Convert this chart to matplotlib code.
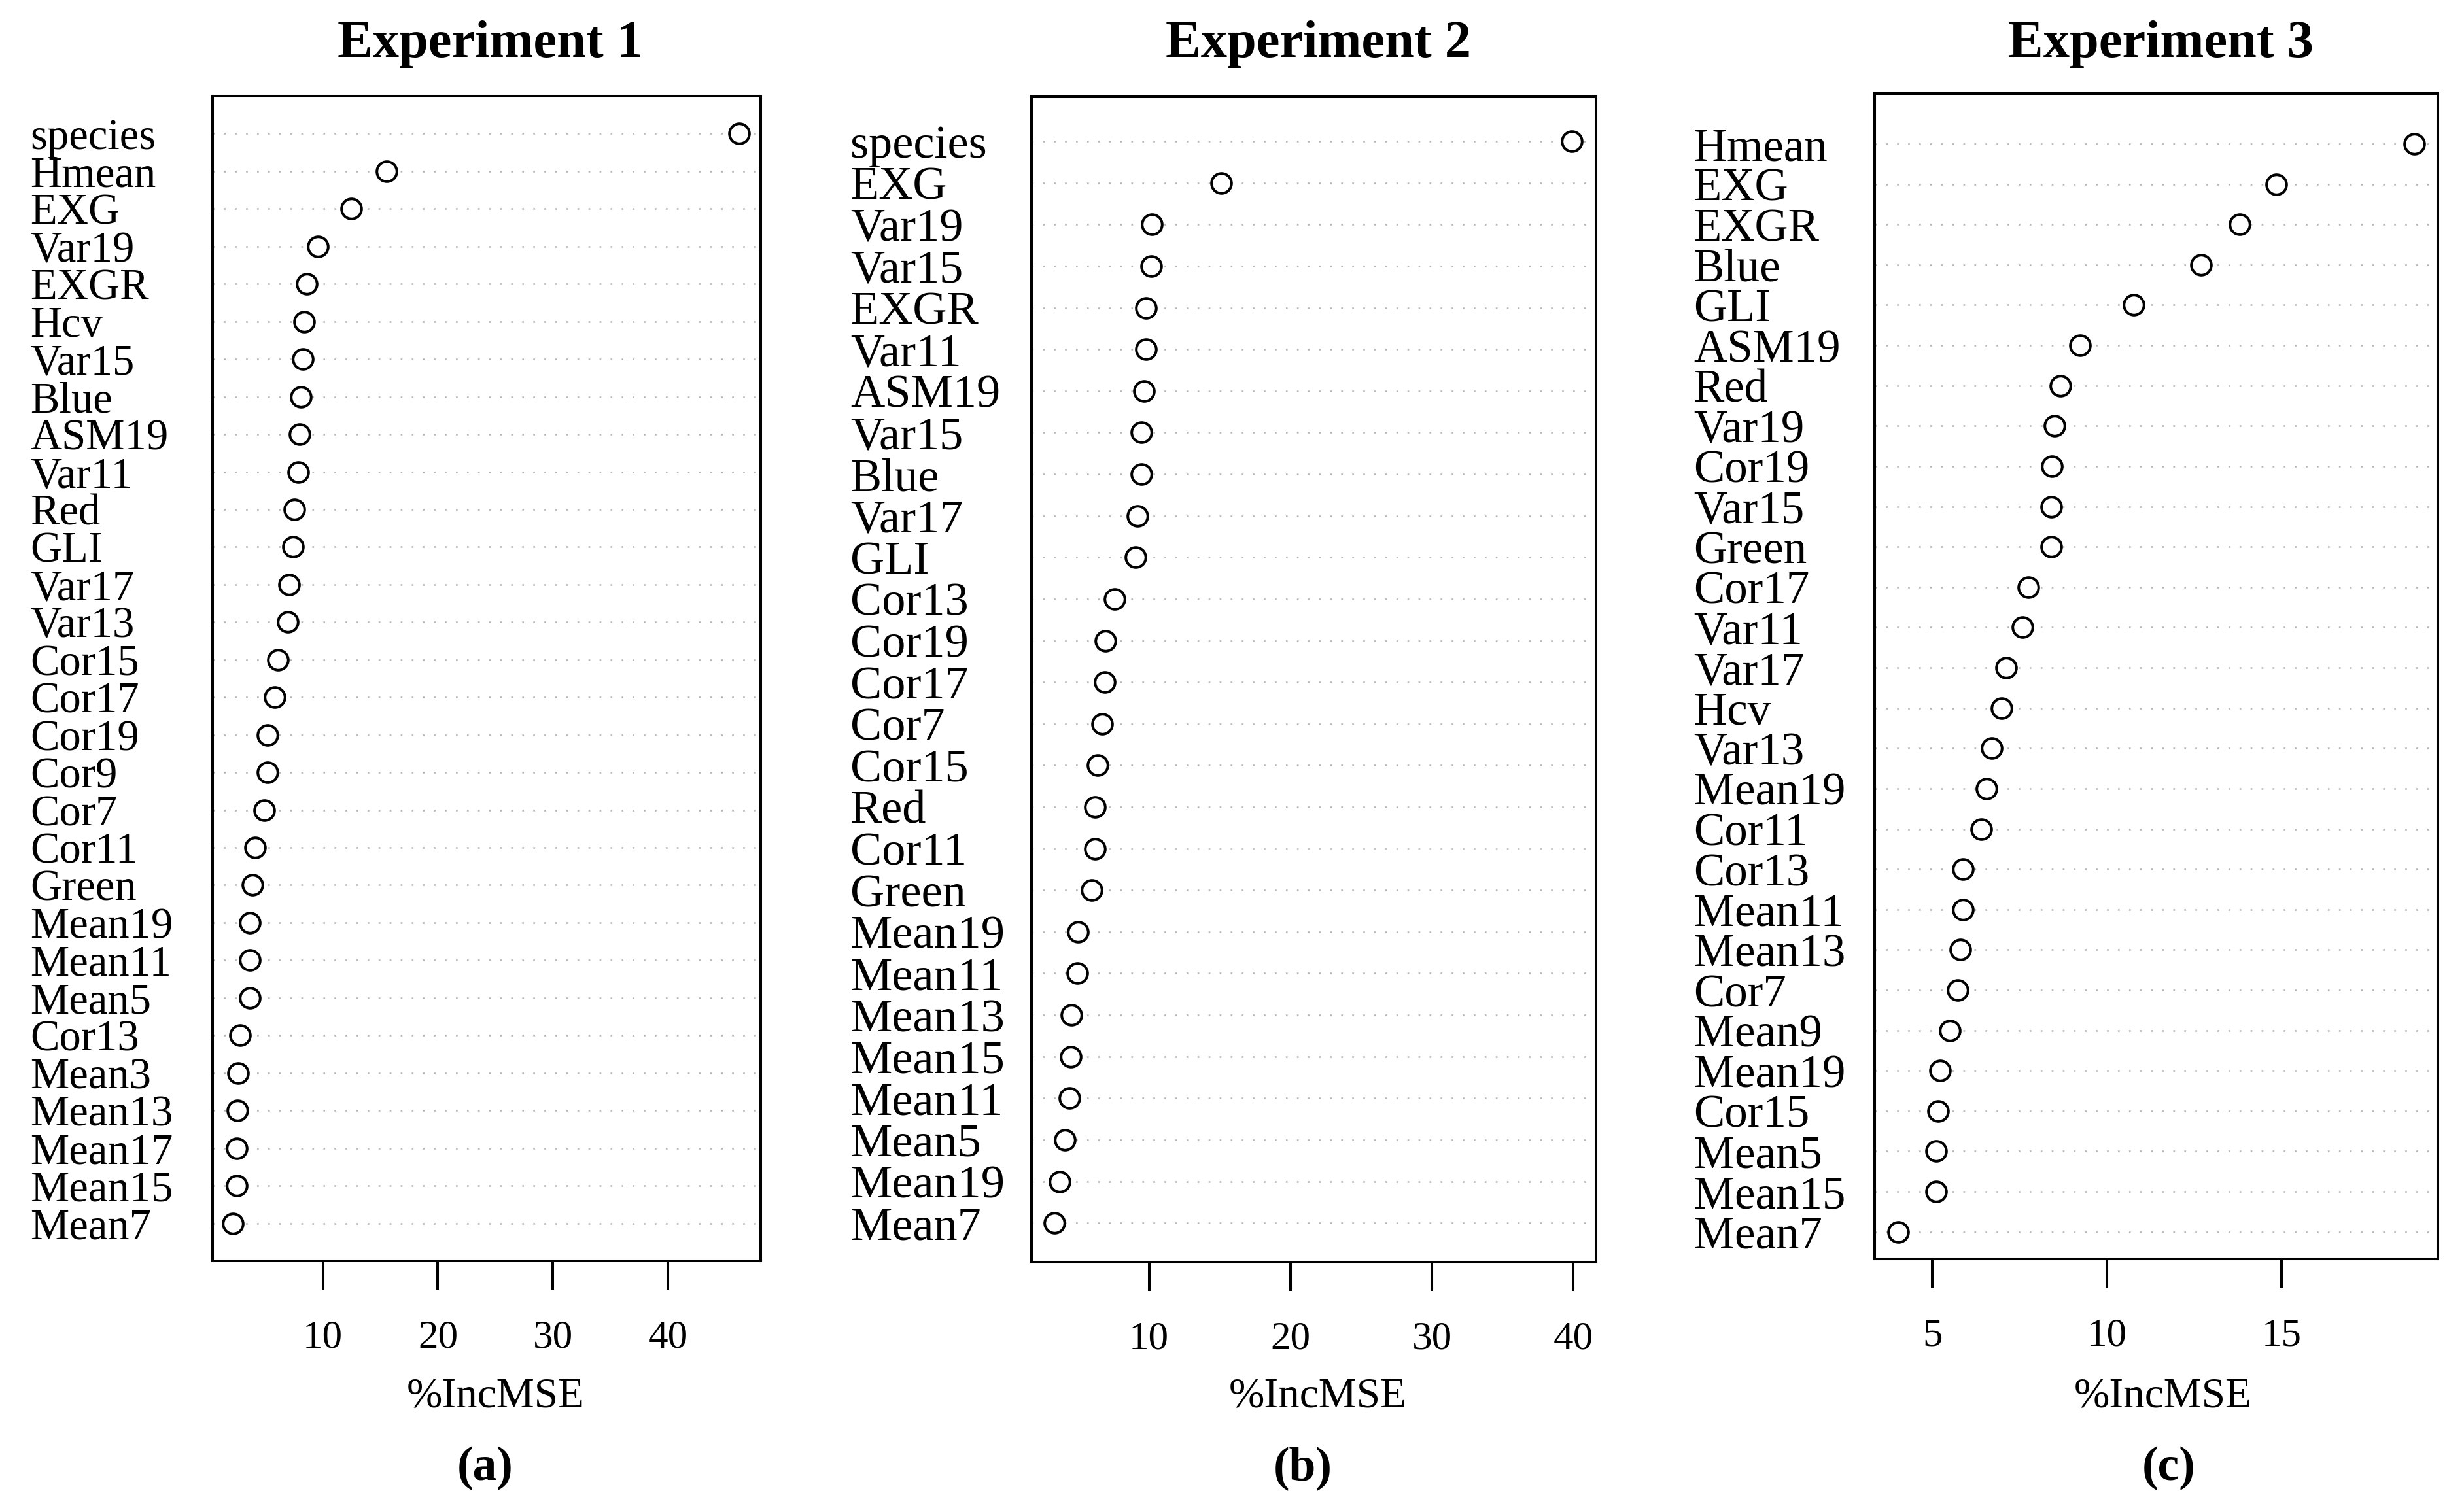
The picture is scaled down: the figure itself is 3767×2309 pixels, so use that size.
"""Variable importance (%IncMSE) dot charts for three experiments."""

import matplotlib
matplotlib.use("Agg")
import matplotlib.pyplot as plt
import matplotlib.transforms as mtransforms

plt.rcParams['font.family'] = ['Liberation Serif', 'DejaVu Serif']

# Experiment 1 (top to bottom as shown)
exp1_vars = ["species", "Hmean", "EXG", "Var19", "EXGR", "Hcv", "Var15", "Blue",
             "ASM19", "Var11", "Red", "GLI", "Var17", "Var13", "Cor15", "Cor17",
             "Cor19", "Cor9", "Cor7", "Cor11", "Green", "Mean19", "Mean11",
             "Mean5", "Cor13", "Mean3", "Mean13", "Mean17", "Mean15", "Mean7"]
exp1_vals = [46.2, 15.55, 12.47, 9.57, 8.62, 8.39, 8.26, 8.12, 7.98, 7.89,
             7.53, 7.39, 7.07, 6.98, 6.08, 5.81, 5.17, 5.17, 4.90, 4.09,
             3.91, 3.64, 3.64, 3.64, 2.82, 2.64, 2.59, 2.55, 2.50, 2.18]

# Experiment 2
exp2_vars = ["species", "EXG", "Var19", "Var15", "EXGR", "Var11", "ASM19", "Var15",
             "Blue", "Var17", "GLI", "Cor13", "Cor19", "Cor17", "Cor7", "Cor15",
             "Red", "Cor11", "Green", "Mean19", "Mean11", "Mean13", "Mean15",
             "Mean11", "Mean5", "Mean19", "Mean7"]
exp2_vals = [39.9, 15.09, 10.22, 10.15, 9.81, 9.78, 9.67, 9.48, 9.48, 9.19,
             9.07, 7.56, 6.94, 6.90, 6.68, 6.38, 6.20, 6.20, 5.94, 4.98,
             4.95, 4.50, 4.47, 4.36, 4.06, 3.69, 3.33]

# Experiment 3
exp3_vars = ["Hmean", "EXG", "EXGR", "Blue", "GLI", "ASM19", "Red", "Var19",
             "Cor19", "Var15", "Green", "Cor17", "Var11", "Var17", "Hcv", "Var13",
             "Mean19", "Cor11", "Cor13", "Mean11", "Mean13", "Cor7", "Mean9",
             "Mean19", "Cor15", "Mean5", "Mean15", "Mean7"]
exp3_vals = [18.80, 14.86, 13.80, 12.70, 10.76, 9.23, 8.67, 8.50, 8.43, 8.41,
             8.41, 7.76, 7.58, 7.11, 6.99, 6.70, 6.55, 6.40, 5.88, 5.88,
             5.80, 5.73, 5.50, 5.23, 5.17, 5.11, 5.11, 4.02]

titles = ["Experiment 1", "Experiment 2", "Experiment 3"]
captions = ["(a)", "(b)", "(c)"]
xticks = [[10, 20, 30, 40], [10, 20, 30, 40], [5, 10, 15]]

W, H = 3767, 2309
fig = plt.figure(figsize=(W / 100, H / 100), dpi=100)

# layout in pixels: box (left, right, top, bottom), label x, title x, xlabel x, caption x
boxes = [(325, 1163, 147, 1928), (1577, 2440, 148, 1930), (2866, 3727, 143, 1925)]
xlims = [(0.42, 48.05), (1.7, 41.6), (3.35, 19.48)]
label_x = [46, 1300, 2589]
label_size = [48, 52, 51]
title_x = [750, 2015, 3303]
xlab_x = [758, 2015, 3307]
cap_x = [742, 1992, 3316]

data = [(exp1_vars, exp1_vals), (exp2_vars, exp2_vals), (exp3_vars, exp3_vals)]

for i, (names, vals) in enumerate(data):
    l, r, t, b = boxes[i]
    ax = fig.add_axes([l / W, 1 - b / H, (r - l) / W, (b - t) / H])
    n = len(names)
    ys = [n - k for k in range(n)]

    # R-like dotchart: y range 0..n+1, but panel 2/3 boxes are a bit off in the image
    if i == 0:
        ax.set_ylim(0, n + 1)
    elif i == 1:
        ax.set_ylim(0.06, n + 1.07)
    else:
        ax.set_ylim(0.33, n + 1.25)
    ax.set_xlim(*xlims[i])

    for y in ys:
        ax.axhline(y, color='#b8b8b8', linewidth=1.9, linestyle=(0, (1, 5.4)), zorder=1)
    ax.plot(vals, ys, 'o', mfc='white', mec='black', ms=22, mew=2.9, zorder=3,
            clip_on=False)

    ax.set_yticks([])
    ax.set_xticks(xticks[i])
    ax.tick_params(axis='x', length=32, width=2.9, labelsize=44, pad=33, colors='black')
    for s in ax.spines.values():
        s.set_linewidth(2.9)

    trans = mtransforms.blended_transform_factory(fig.transFigure, ax.transData)
    for name, y in zip(names, ys):
        ax.text(label_x[i] / W, y, name, transform=trans, ha='left',
                va='center_baseline', fontsize=label_size[i])

    fig.text(title_x[i] / W, 1 - 68 / H, titles[i], ha='center', va='center',
             fontsize=58, fontweight='bold')
    fig.text(xlab_x[i] / W, 1 - 2136 / H, "%IncMSE", ha='center', va='center',
             fontsize=47)
    fig.text(cap_x[i] / W, 1 - 2245 / H, captions[i], ha='center', va='center',
             fontsize=53, fontweight='bold')

fig.savefig("out.png", dpi=100, facecolor='white')
